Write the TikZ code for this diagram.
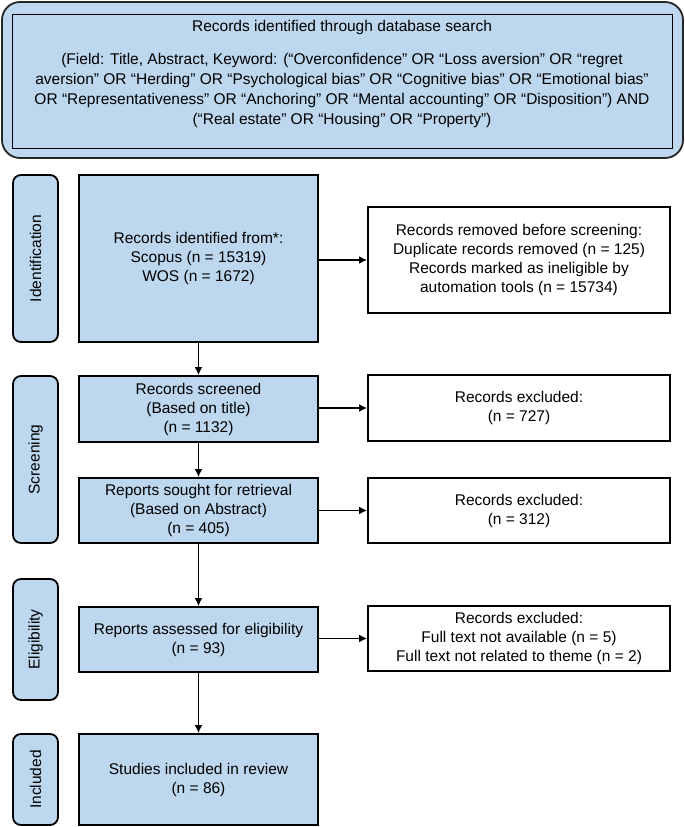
\documentclass[tikz,border=0pt]{standalone}
\usepackage{fontspec}
\setmainfont{Liberation Sans}
\usetikzlibrary{arrows.meta}
\definecolor{boxblue}{HTML}{BDD7EE}
\tikzset{
  x=1pt, y=-1pt,
  every node/.style={font=\fontsize{15.5}{19}\selectfont, align=center, inner sep=0pt},
  bluebox/.style={draw=black, line width=1.8pt, fill=boxblue},
  whitebox/.style={draw=black, line width=1.8pt, fill=white},
  phase/.style={draw=black, line width=1.8pt, fill=boxblue, rounded corners=8pt, minimum width=45pt},
  arr/.style={line width=1.8pt, -{Latex[length=8pt,width=8pt]}},
}
\begin{document}
\begin{tikzpicture}
\useasboundingbox (0,0) rectangle (685,827);
% top search box
\draw[line width=1.8pt, draw=black!85, fill=boxblue, rounded corners=18pt] (2,2) rectangle (683,158);
\node[draw=black, line width=0.9pt, fill=boxblue, minimum width=660pt, minimum height=134pt] (search) at (342,81) {};
\node (searchtitle) at (342,27) {Records identified through database search};
\node[font=\fontsize{15.5}{20}\selectfont] (query) at (342,90) {(Field: Title, Abstract, Keyword: (“Overconfidence” OR “Loss aversion” OR “regret\\
aversion” OR “Herding” OR “Psychological bias” OR “Cognitive bias” OR “Emotional bias”\\
OR “Representativeness” OR “Anchoring” OR “Mental accounting” OR “Disposition”) AND\\
(“Real estate” OR “Housing” OR “Property”)};

% phase labels
\node[phase, minimum height=167pt] (pid) at (35.5,258.5) {};
\node[rotate=90] at (pid) {Identification};
\node[phase, minimum height=167pt] (pscr) at (35.5,459.5) {};
\node[rotate=90] at (pscr) {Screening};
\node[phase, minimum height=121pt] (pel) at (35.5,639.5) {};
\node[rotate=90] at (pel) {Eligibility};
\node[phase, minimum height=91pt] (pin) at (35.5,779.5) {};
\node[rotate=90] at (pin) {Included};

% main column
\node[bluebox, minimum width=239pt, minimum height=167pt] (ident) at (198.5,258.5)
  {Records identified from*:\\Scopus (n = 15319)\\WOS (n = 1672)};
\node[bluebox, minimum width=239pt, minimum height=66pt] (screen) at (198.5,409)
  {Records screened\\(Based on title)\\(n = 1132)};
\node[bluebox, minimum width=239pt, minimum height=65pt] (sought) at (198.5,510.5)
  {Reports sought for retrieval\\(Based on Abstract)\\(n = 405)};
\node[bluebox, minimum width=239pt, minimum height=65pt] (elig) at (198.5,639.5)
  {Reports assessed for eligibility\\(n = 93)};
\node[bluebox, minimum width=239pt, minimum height=91pt] (incl) at (198.5,779.5)
  {Studies included in review\\(n = 86)};

% right column
\node[whitebox, minimum width=302pt, minimum height=106pt] (removed) at (519,260)
  {Records removed before screening:\\Duplicate records removed (n = 125)\\Records marked as ineligible by\\automation tools (n = 15734)};
\node[whitebox, minimum width=302pt, minimum height=66pt] (excl1) at (519,408)
  {Records excluded:\\(n = 727)};
\node[whitebox, minimum width=302pt, minimum height=65pt] (excl2) at (519,510.5)
  {Records excluded:\\(n = 312)};
\node[whitebox, minimum width=302pt, minimum height=65pt] (excl3) at (519,638.5)
  {Records excluded:\\Full text not available (n = 5)\\Full text not related to theme (n = 2)};

% arrows
\draw[arr] (ident) -- (screen);
\draw[arr] (screen) -- (sought);
\draw[arr] (sought) -- (elig);
\draw[arr] (elig) -- (incl);
\draw[arr] (ident.east |- removed.west) -- (removed.west);
\draw[arr] (screen.east |- excl1.west) -- (excl1.west);
\draw[arr] (sought.east |- excl2.west) -- (excl2.west);
\draw[arr] (elig.east |- excl3.west) -- (excl3.west);
\end{tikzpicture}
\end{document}
